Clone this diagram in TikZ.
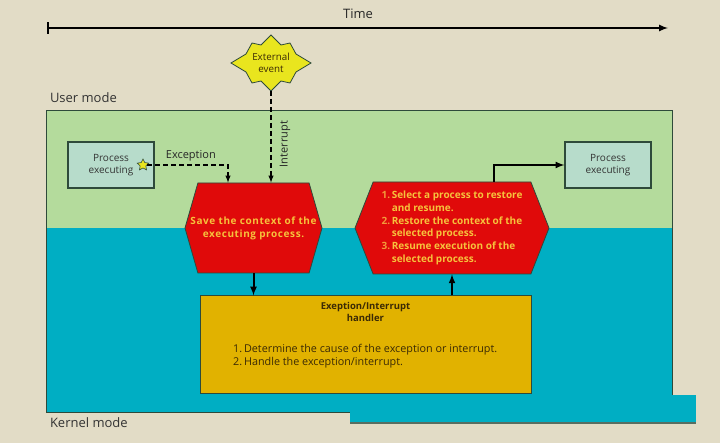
\documentclass[tikz,border=0pt]{standalone}
\usepackage{fontspec}
\setmainfont{Open Sans}
\usepackage{tikz}
\usetikzlibrary{arrows,positioning,shapes.geometric,shapes.symbols}

\definecolor{bgsand}{HTML}{E2DCC6}
\definecolor{usergreen}{HTML}{B4DB9C}
\definecolor{kernelcyan}{HTML}{00AEC3}
\definecolor{edgedark}{HTML}{2E4A3A}
\definecolor{procfill}{HTML}{B7DCCB}
\definecolor{hexred}{HTML}{E00A0A}
\definecolor{hexgold}{HTML}{F6C23C}
\definecolor{hexnum}{HTML}{F29A3A}
\definecolor{handgold}{HTML}{E1B200}
\definecolor{handtext}{HTML}{3B2A05}
\definecolor{starfill}{HTML}{E9E51E}

\begin{document}
\begin{tikzpicture}[x=1pt,y=-1pt,>=latex]

    \tikzstyle{zone}=[inner sep=0pt,minimum width=625pt]
    \tikzstyle{modelabel}=[inner sep=1pt,font=\fontsize{13}{15}\selectfont,text=black!80]
    \tikzstyle{proc}=[draw=edgedark,fill=procfill,line width=1.2pt,minimum width=86pt,minimum height=46pt,align=center,font=\fontsize{10}{12}\selectfont,text=black!80]
    \tikzstyle{hex}=[signal,signal to=west and east,draw=edgedark,fill=hexred,line width=0.8pt,inner sep=0pt,align=center,text=hexgold,font=\bfseries\fontsize{10}{12.8}\selectfont]
    \tikzstyle{flow}=[->,line width=2pt]
    \tikzstyle{jump}=[->,dash pattern=on 5pt off 3pt,line width=1.4pt]

    \useasboundingbox (0,0) rectangle (720,443);
    \fill[bgsand] (0,0) rectangle (720,443);

    % user and kernel mode
    \node[zone,fill=usergreen,minimum height=117pt]  (user)   at (359.5,169.5) {};
    \node[zone,fill=kernelcyan,minimum height=184pt] (kernel) at (359.5,320)   {};
    \draw[edgedark,line width=1pt] (user.north west) rectangle (kernel.south east);
    \node[modelabel,above right=7pt and 2pt of user.north west]   (user_lbl)   {User mode};
    \node[modelabel,below right=4pt and 2pt of kernel.south west] (kernel_lbl) {Kernel mode};

    % time
    \node[font=\fontsize{13}{15}\selectfont,text=black!85] (time) at (358,14) {Time};
    \coordinate (t_0) at (47,28);
    \coordinate (t_1) at (668,28);
    \draw[|->,line width=2pt] (t_0) -- (t_1);

    % external event
    \coordinate (ev) at (271,63);
    \filldraw[fill=starfill,draw=edgedark,line width=0.8pt,shift={(ev)}]
      (0,-28) -- (10,-18) -- (19,-20) -- (25,-9) -- (40,0) -- (25,9) -- (19,20) -- (10,18)
      -- (0,28) -- (-10,18) -- (-19,20) -- (-25,9) -- (-40,0) -- (-25,-9) -- (-19,-20) -- (-10,-18) -- cycle;
    \node[align=center,inner sep=0pt,font=\fontsize{9.8}{12.5}\selectfont,text=handtext] (event) at (ev) {External\\event};
    \coordinate (ev_tip) at (271,91);

    % processes
    \node[proc] (proc_1) at (111,165) {Process\\executing};
    \node[proc] (proc_2) at (608,165) {Process\\executing};
    \node[star,star points=5,star point ratio=2,fill=starfill,draw=edgedark,line width=0.6pt,minimum size=12pt,inner sep=0pt] (exc) at (143,165) {};

    % context save / restore
    \node[hex,inner xsep=-8pt,minimum width=137pt,minimum height=90pt,signal pointer angle=148] (hex_1) at (253.5,228)
      {\addfontfeature{LetterSpace=6}Save the context of the\\\addfontfeature{LetterSpace=6}executing process.};
    \node[hex,minimum width=194pt,minimum height=92pt,signal pointer angle=137] (hex_2) at (452,228)
      {\begin{tabular}{@{}r@{\,}l@{}}
        \color{hexnum}1. & Select a process to restore\\
                         & and resume.\\
        \color{hexnum}2. & Restore the context of the\\
                         & selected process.\\
        \color{hexnum}3. & Resume execution of the\\
                         & selected process.
      \end{tabular}};

    % handler
    \node[draw=edgedark,fill=handgold,line width=1pt,minimum width=331pt,minimum height=97pt] (handler) at (365.5,344.5) {};
    \node[below=3pt of handler.north,align=center,text=handtext,font=\bfseries\fontsize{9.5}{12}\selectfont] (hand_title)
      {Exeption/Interrupt\\handler};
    \node[anchor=west,inner sep=0pt,align=left,text=handtext,font=\fontsize{10.8}{13}\selectfont] (hand_list) at (233,356.5)
      {1.\,Determine the cause of the exception or interrupt.\\2.\,Handle the exception/interrupt.};

    % connectors
    \draw[jump] (exc.east) -| ([xshift=-25.5pt]hex_1.north)
      node[pos=0.27,above,text=black!85,font=\fontsize{11}{13}\selectfont] {Exception};
    \draw[jump] (ev_tip) -- (ev_tip |- hex_1.north)
      node[pos=0.58,rotate=90,anchor=north,inner sep=8pt,text=black!85,font=\fontsize{11}{12}\selectfont] {Interrupt};
    \draw[flow] (hex_1.south) -- (hex_1.south |- handler.north);
    \draw[flow] (hex_2.south |- handler.north) -- (hex_2.south);
    \draw[flow] ([xshift=42pt]hex_2.north) |- (proc_2.west);

    % patch at the bottom
    \fill[kernelcyan] (350,395) rectangle (696,424);
    \draw[edgedark!80,line width=1.5pt] (350,423) -- (696,423);
\end{tikzpicture}
\end{document}
